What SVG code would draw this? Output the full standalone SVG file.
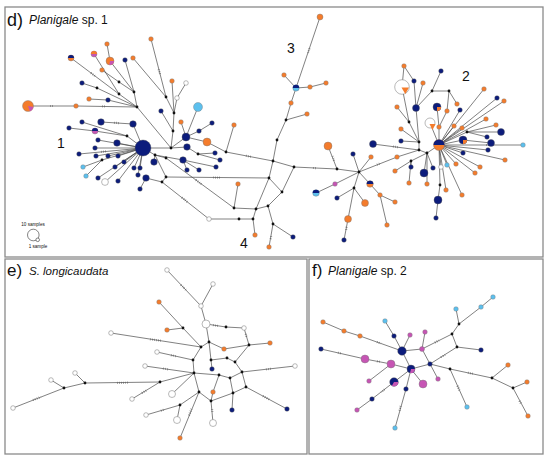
<svg xmlns="http://www.w3.org/2000/svg" width="550" height="460" viewBox="0 0 550 460">
<style>
.frame{fill:none;stroke:#8a8a8a;stroke-width:1.3}
.lbl{font-family:"Liberation Sans",Arial,sans-serif;fill:#111}
.e path{stroke:#4a4a4a;stroke-width:0.7;fill:none}
.t path{stroke:#555;stroke-width:2.2;stroke-dasharray:0.5 1.6;fill:none}
.n{fill:#0c1c7c;stroke:#555;stroke-width:0.4}
.o{fill:#f47c2c;stroke:#777;stroke-width:0.4}
.l{fill:#5cc0ee;stroke:#777;stroke-width:0.4}
.p{fill:#c655b4;stroke:#777;stroke-width:0.4}
.w{fill:#fff;stroke:#8a8a8a;stroke-width:0.6}
.j{fill:#111}
.fn{fill:#0c1c7c}.fo{fill:#f47c2c}.fl{fill:#5cc0ee}.fp{fill:#c655b4}
.leg{fill:#fff;stroke:#333;stroke-width:0.6}
</style>
<rect class="frame" x="5" y="7" width="538" height="250"/>
<rect class="frame" x="5" y="259" width="302" height="195"/>
<rect class="frame" x="309" y="259" width="234" height="195"/>
<g id="labels">
<text class="lbl" x="7" y="26" font-size="18">d)</text>
<text class="lbl" x="29" y="24" font-size="12"><tspan font-style="italic">Planigale</tspan> sp. 1</text>
<text class="lbl" x="57" y="148" font-size="14">1</text>
<text class="lbl" x="462" y="81" font-size="14">2</text>
<text class="lbl" x="287" y="53" font-size="14">3</text>
<text class="lbl" x="240" y="248" font-size="14">4</text>
<text class="lbl" x="7" y="276" font-size="17">e)</text>
<text class="lbl" x="29" y="275" font-size="11.5" font-style="italic">S. longicaudata</text>
<text class="lbl" x="312" y="276" font-size="17">f)</text>
<text class="lbl" x="328" y="275" font-size="12"><tspan font-style="italic">Planigale</tspan> sp. 2</text>
</g>
<g id="legend">
<text class="lbl" x="33" y="226" font-size="4.6" text-anchor="middle">10 samples</text>
<circle class="leg" cx="33.3" cy="235" r="5.8"/>
<circle class="leg" cx="37.7" cy="239.8" r="1.8"/>
<text class="lbl" x="38" y="248" font-size="4.6" text-anchor="middle">1 sample</text>
</g>
<g id="connectors">
<g class="e">
<path d="M143 148L171 148M171 148L137 107M137 107L134 92M137 107L119 94M119 94L71 58M137 107L97 88M97 88L82 83M137 107L108 100M108 100L89 99M119 94L94 54M134 92L110 61M110 61L107 44M134 92L119 82M119 82L102 70M134 92L125 60M28 106L76 106M76 106L137 107"/>
<path d="M171 148L173 131M173 131L174 113M174 113L177 98M177 98L186 83M174 113L166 97M166 97L151 39M166 97L133 58M174 113L172 81M173 131L161 111"/>
<path d="M143 148L133 124M133 124L101 122M143 148L127 136M127 136L82 122M127 136L95 131M95 131L69 128M143 148L98 140M143 148L117 143M143 148L95 148M143 148L79 154M143 148L96 156M143 148L108 156M143 148L118 156M143 148L124 162M143 148L134 168M143 148L140 168M143 148L115 167M143 148L102 160M102 160L83 167M102 160L86 176M143 148L98 178M143 148L105 182M143 148L118 181M143 148L138 175"/>
<path d="M186 137L181 122M186 137L198 107M186 137L199 131M199 131L212 123M171 148L186 137M186 137L207 142M207 142L226 152M226 152L234 125M226 152L273 161M171 148L187 147M187 147L198 154M198 154L215 153M198 154L220 160"/>
<path d="M143 148L155 155M155 155L154 162M155 155L183 160M183 160L199 170M183 160L216 167M183 160L187 170M155 155L166 158M166 158L234 208M155 155L166 177M166 177L162 182M162 182L146 178M146 178L140 189M162 182L209 219M166 177L269 178"/>
<path d="M273 161L277 140M277 140L286 120M286 120L291 103M291 103L296 88M296 88L320 17M286 120L307 114M296 88L284 75M296 88L310 87M310 87L326 83"/>
<path d="M273 161L269 178M273 161L294 167M269 178L282 192M282 192L268 206M269 178L256 209M256 209L234 208M256 209L268 206M234 208L238 184M209 219L239 219M239 219L253 219M253 219L256 209M253 219L255 235M268 206L273 224M273 224L269 247M273 224L293 237M282 192L294 167"/>
<path d="M294 167L337 169M337 169L328 146M337 169L359 172M359 172L353 154M359 172L371 157M359 172L335 184M335 184L316 193M359 172L370 184M370 184L380 195M380 195L395 202M380 195L387 225M359 172L354 188M354 188L337 198M354 188L365 203M354 188L348 219M348 219L344 240M359 172L397 157M397 157L419 150"/>
<path d="M373 144L419 150M419 150L427 153M427 153L439 145M419 150L419 142M419 142L401 141M419 142L401 129M419 142L409 122M409 122L397 107M409 122L402 87M402 87L404 66M404 66L414 81M414 81L416 108M423 83L416 108M416 108L419 142M416 108L432 91M432 91L441 71M432 91L449 91M449 91L457 104M449 91L447 111M447 111L439 127M439 127L439 145M437 107L439 127"/>
<path d="M439 145L460 110M439 145L430 123M439 145L454 126M439 145L462 128M439 145L484 89M439 145L497 98M439 145L504 101M439 145L486 119M439 145L467 132M467 132L496 125M467 132L501 132M467 132L487 137M439 145L463 140M463 140L491 143M439 145L488 150M439 145L523 145M439 145L463 153M439 145L456 164M439 145L475 173M439 145L480 167M439 145L505 160M439 145L462 195M439 145L446 190M439 145L447 165M439 145L441 167M439 145L440 185M440 185L438 200M438 200L436 218M427 153L433 168M427 153L424 173M427 153L427 184M427 153L411 161M411 161L411 167M411 161L409 183M411 161L395 171"/>
<path d="M167 270L201 306M213 284L201 306M201 306L206 324M206 324L226 327M226 327L244 328M244 328L249 345M249 345L270 343M249 345L224 349M206 324L209 342M209 342L201 347M209 342L224 349M159 302L183 328M167 330L183 328M183 328L201 347M111 333L201 347M201 347L193 360M193 360L157 352M193 360L194 373M145 366L194 373M194 373L160 382M160 382L85 383M85 383L75 373M85 383L64 388M64 388L51 380M64 388L13 408M160 382L132 399M194 373L172 394M194 373L199 392M199 392L211 401M199 392L180 405M180 405L146 415M180 405L177 420M199 392L180 438M211 401L213 423"/>
<path d="M209 342L211 360M211 360L212 369M211 360L227 358M227 358L235 362M235 362L249 345M235 362L242 372M194 373L219 375M219 375L230 378M230 378L242 372M230 378L233 393M233 393L232 410M233 393L246 387M242 372L246 387M246 387L287 409M242 372L295 366M219 375L213 392M213 392L211 401M211 401L233 393"/>
<path d="M493 297L481 307M481 307L459 324M459 324L456 309M459 324L452 334M452 334L457 347M452 334L422 349M457 347L481 350M457 347L430 364M422 349L402 351M402 351L394 336M394 336L385 321M402 351L410 335M422 349L425 332M402 351L360 336M360 336L344 331M344 331L323 322M402 351L411 369M422 349L430 364M430 364L411 369M430 364L438 379M430 364L450 369M450 369L492 378M492 378L508 365M492 378L513 388M513 388L527 382M513 388L528 416M450 369L467 407M411 369L391 364M391 364L365 359M365 359L321 349M411 369L423 384M411 369L394 382M394 382L372 399M372 399L357 410M391 364L369 381M411 369L406 389M406 389L395 428"/>
</g>
<g class="t">
<path d="M50 106L54 106M102 106.4L106 106.5M160 74L158.5 69M213 177.5L220 177.6M182 197.5L188 202.5M196 180L202 184.5M246 155.8L251 156.8M309.5 48.5L307.5 54.5M313 168L317 168.2M334 160.5L332.5 156M486 145L493 145M393 146.6L399 147.4M101 151.8L106 151.4M114 122.8L119 123.1M91 73L95 76M270.7 239L271.3 235M377 164.6L381 163.2M346.5 227L346 230.5"/>
<path d="M181 285L186 290M150 339.3L161 340.7M117 382.9L128 382.7M33 400L41 397M163 368.6L169 369.5M171 355.2L176 356.3M212.1 409L212.4 413M263 396L269 399.4M266 369.3L271 368.7M191.5 409L188.5 416.5M161 410.7L165 409.3M213 325.2L219 326M142 393L147 390M245.8 334L246.8 338"/>
<path d="M338 352.8L342 353.7M377 342L381 343.6M435 342.5L439 340.5M441 357.1L445 354.9M468 372.8L474 374.1M400.6 406L399.4 411M457.5 386L459.5 390.5M519.5 401L521.5 404.5M377 361.3L380 361.8M384.5 389.5L381 392.2"/>
</g>
</g>
<g id="d-junctions">
<g id="dj1"><circle class="j" cx="171" cy="148" r="1.4"/></g>
<g id="dj2"><circle class="j" cx="137" cy="107" r="1.4"/></g>
<g id="dj3"><circle class="j" cx="134" cy="92" r="1.4"/></g>
<g id="dj4"><circle class="j" cx="119" cy="94" r="1.4"/></g>
<g id="dj5"><circle class="j" cx="97" cy="88" r="1.4"/></g>
<g id="dj6"><circle class="j" cx="119" cy="82" r="1.4"/></g>
<g id="dj7"><circle class="j" cx="166" cy="97" r="1.4"/></g>
<g id="dj8"><circle class="j" cx="174" cy="113" r="1.4"/></g>
<g id="dj9"><circle class="j" cx="173" cy="131" r="1.4"/></g>
<g id="dj10"><circle class="j" cx="127" cy="136" r="1.4"/></g>
<g id="dj11"><circle class="j" cx="102" cy="160" r="1.4"/></g>
<g id="dj12"><circle class="j" cx="155" cy="155" r="1.4"/></g>
<g id="dj13"><circle class="j" cx="166" cy="158" r="1.4"/></g>
<g id="dj14"><circle class="j" cx="166" cy="177" r="1.4"/></g>
<g id="dj15"><circle class="j" cx="162" cy="182" r="1.4"/></g>
<g id="dj16"><circle class="j" cx="198" cy="154" r="1.4"/></g>
<g id="dj17"><circle class="j" cx="226" cy="152" r="1.4"/></g>
<g id="dj18"><circle class="j" cx="273" cy="161" r="1.4"/></g>
<g id="dj19"><circle class="j" cx="269" cy="178" r="1.4"/></g>
<g id="dj20"><circle class="j" cx="282" cy="192" r="1.4"/></g>
<g id="dj21"><circle class="j" cx="268" cy="206" r="1.4"/></g>
<g id="dj22"><circle class="j" cx="256" cy="209" r="1.4"/></g>
<g id="dj23"><circle class="j" cx="234" cy="208" r="1.4"/></g>
<g id="dj24"><circle class="j" cx="239" cy="219" r="1.4"/></g>
<g id="dj25"><circle class="j" cx="253" cy="219" r="1.4"/></g>
<g id="dj26"><circle class="j" cx="273" cy="224" r="1.4"/></g>
<g id="dj27"><circle class="j" cx="286" cy="120" r="1.4"/></g>
<g id="dj28"><circle class="j" cx="277" cy="140" r="1.4"/></g>
<g id="dj29"><circle class="j" cx="294" cy="167" r="1.4"/></g>
<g id="dj30"><circle class="j" cx="337" cy="169" r="1.4"/></g>
<g id="dj31"><circle class="j" cx="359" cy="172" r="1.4"/></g>
<g id="dj32"><circle class="j" cx="354" cy="188" r="1.4"/></g>
<g id="dj33"><circle class="j" cx="419" cy="150" r="1.4"/></g>
<g id="dj34"><circle class="j" cx="427" cy="153" r="1.4"/></g>
<g id="dj35"><circle class="j" cx="411" cy="161" r="1.4"/></g>
<g id="dj36"><circle class="j" cx="409" cy="122" r="1.4"/></g>
<g id="dj37"><circle class="j" cx="419" cy="142" r="1.4"/></g>
<g id="dj38"><circle class="j" cx="432" cy="91" r="1.4"/></g>
<g id="dj39"><circle class="j" cx="449" cy="91" r="1.4"/></g>
<g id="dj40"><circle class="j" cx="467" cy="132" r="1.4"/></g>
<g id="dj41"><circle class="j" cx="440" cy="185" r="1.4"/></g>
</g>
<g id="d-nodes">
<g id="hub1"><circle class="n" cx="143" cy="148" r="8"/></g>
<g id="d1"><circle class="o" cx="107" cy="44" r="2.3"/></g>
<g id="d2"><circle class="p" cx="94" cy="54" r="3"/><path class="fo" d="M91 54A3 3 0 0 1 97 54Z"/></g>
<g id="d3"><circle class="o" cx="110" cy="61" r="4"/><path class="fp" d="M110 61L114 61A4 4 0 0 1 109.3 64.9Z"/></g>
<g id="d4"><circle class="o" cx="71" cy="58" r="3"/><path class="fn" d="M68 58A3 3 0 0 1 74 58Z"/></g>
<g id="d5"><circle class="n" cx="125" cy="60" r="2.3"/></g>
<g id="d6"><circle class="o" cx="133" cy="58" r="2.3"/></g>
<g id="d7"><circle class="o" cx="102" cy="70" r="2.3"/></g>
<g id="d8"><circle class="o" cx="151" cy="39" r="2.3"/></g>
<g id="d9"><circle class="o" cx="172" cy="81" r="2.3"/></g>
<g id="d10"><circle class="w" cx="186" cy="83" r="2.3"/></g>
<g id="d11"><circle class="w" cx="177" cy="98" r="2.3"/></g>
<g id="d12"><circle class="n" cx="82" cy="83" r="2.3"/></g>
<g id="d13"><circle class="o" cx="89" cy="99" r="2.3"/></g>
<g id="d14"><circle class="n" cx="108" cy="100" r="2.3"/></g>
<g id="d15"><circle class="o" cx="28" cy="106" r="5.5"/><path class="fp" d="M28 106L33.4 107A5.5 5.5 0 0 1 29.9 111.2Z"/></g>
<g id="d16"><circle class="o" cx="76" cy="106" r="2.3"/></g>
<g id="d17"><circle class="l" cx="198" cy="107" r="4.5"/></g>
<g id="d18"><circle class="n" cx="161" cy="111" r="2.3"/></g>
<g id="d19"><circle class="n" cx="101" cy="122" r="3.3"/></g>
<g id="d20"><circle class="n" cx="133" cy="124" r="3.3"/></g>
<g id="d21"><circle class="n" cx="82" cy="122" r="2.3"/></g>
<g id="d22"><circle class="n" cx="69" cy="128" r="2.3"/></g>
<g id="d23"><circle class="p" cx="95" cy="131" r="3"/><path class="fn" d="M92 131A3 3 0 0 1 98 131Z"/></g>
<g id="d24"><circle class="o" cx="181" cy="122" r="2.3"/></g>
<g id="d25"><circle class="n" cx="199" cy="131" r="2.3"/></g>
<g id="d26"><circle class="n" cx="212" cy="123" r="2.3"/></g>
<g id="d27"><circle class="n" cx="186" cy="137" r="4"/></g>
<g id="d28"><circle class="o" cx="207" cy="142" r="4"/></g>
<g id="d29"><circle class="o" cx="234" cy="125" r="2.3"/></g>
<g id="d30"><circle class="n" cx="98" cy="140" r="2.3"/></g>
<g id="d31"><circle class="n" cx="117" cy="143" r="3.3"/></g>
<g id="d32"><circle class="n" cx="95" cy="148" r="2.3"/></g>
<g id="d33"><circle class="n" cx="79" cy="154" r="2.3"/></g>
<g id="d34"><circle class="n" cx="96" cy="156" r="2.3"/></g>
<g id="d35"><circle class="n" cx="108" cy="156" r="2.3"/></g>
<g id="d36"><circle class="n" cx="118" cy="156" r="2.3"/></g>
<g id="d37"><circle class="n" cx="187" cy="147" r="3.3"/></g>
<g id="d38"><circle class="n" cx="183" cy="160" r="3.3"/></g>
<g id="d39"><circle class="n" cx="215" cy="153" r="2.3"/></g>
<g id="d40"><circle class="n" cx="220" cy="160" r="2.3"/></g>
<g id="d41"><circle class="n" cx="199" cy="170" r="2.3"/></g>
<g id="d42"><circle class="n" cx="216" cy="167" r="2.3"/></g>
<g id="d43"><circle class="n" cx="187" cy="170" r="2.3"/></g>
<g id="d44"><circle class="n" cx="154" cy="162" r="3.3"/></g>
<g id="d45"><circle class="n" cx="124" cy="162" r="2.3"/></g>
<g id="d46"><circle class="n" cx="134" cy="168" r="2.3"/></g>
<g id="d47"><circle class="n" cx="140" cy="168" r="2.3"/></g>
<g id="d48"><circle class="n" cx="115" cy="167" r="2.3"/></g>
<g id="d49"><circle class="l" cx="83" cy="167" r="2.3"/></g>
<g id="d50"><circle class="l" cx="86" cy="176" r="2.3"/></g>
<g id="d51"><circle class="n" cx="98" cy="178" r="2.3"/></g>
<g id="d52"><circle class="w" cx="105" cy="182" r="3.4"/></g>
<g id="d53"><circle class="n" cx="118" cy="181" r="2.3"/></g>
<g id="d54"><circle class="n" cx="138" cy="175" r="2.3"/></g>
<g id="d55"><circle class="n" cx="146" cy="178" r="3.3"/></g>
<g id="d56"><circle class="n" cx="140" cy="189" r="2.3"/></g>
<g id="d57"><circle class="o" cx="238" cy="184" r="2.3"/></g>
<g id="d58"><circle class="w" cx="209" cy="219" r="2.3"/></g>
<g id="d59"><circle class="o" cx="255" cy="235" r="2.3"/></g>
<g id="d60"><circle class="o" cx="269" cy="247" r="2.3"/></g>
<g id="d61"><circle class="n" cx="293" cy="237" r="2.3"/></g>
<g id="d62"><circle class="o" cx="320" cy="17" r="3"/></g>
<g id="d63"><circle class="l" cx="296" cy="88" r="3.2"/><path class="fn" d="M292.8 88A3.2 3.2 0 0 1 299.2 88Z"/></g>
<g id="d64"><circle class="o" cx="284" cy="75" r="2.3"/></g>
<g id="d65"><circle class="o" cx="310" cy="87" r="2.3"/></g>
<g id="d66"><circle class="o" cx="326" cy="83" r="2.3"/></g>
<g id="d67"><circle class="o" cx="291" cy="103" r="2.3"/></g>
<g id="d68"><circle class="o" cx="307" cy="114" r="2.3"/></g>
<g id="d69"><circle class="o" cx="328" cy="146" r="4"/></g>
<g id="d70"><circle class="n" cx="353" cy="154" r="2.3"/></g>
<g id="d71"><circle class="o" cx="371" cy="157" r="2.3"/></g>
<g id="d72"><circle class="p" cx="335" cy="184" r="2.3"/></g>
<g id="d73"><circle class="l" cx="316" cy="193" r="3.3"/><path class="fn" d="M312.7 193A3.3 3.3 0 0 1 319.3 193Z"/></g>
<g id="d74"><circle class="o" cx="370" cy="184" r="3.3"/><path class="fn" d="M366.7 184A3.3 3.3 0 0 1 373.3 184Z"/></g>
<g id="d75"><circle class="n" cx="337" cy="198" r="2.3"/></g>
<g id="d76"><circle class="o" cx="365" cy="203" r="3.5"/></g>
<g id="d77"><circle class="o" cx="380" cy="195" r="2.3"/></g>
<g id="d78"><circle class="o" cx="395" cy="202" r="2.3"/></g>
<g id="d79"><circle class="o" cx="348" cy="219" r="3.5"/></g>
<g id="d80"><circle class="n" cx="344" cy="240" r="2.3"/></g>
<g id="d81"><circle class="o" cx="387" cy="225" r="2.3"/></g>
<g id="d82"><circle class="o" cx="397" cy="157" r="2.3"/></g>
<g id="d83"><circle class="n" cx="373" cy="144" r="3.5"/></g>
<g id="hub2"><circle class="o" cx="439" cy="145" r="5.5"/><path class="fn" d="M433.5 145A5.5 5.5 0 0 1 444.5 145Z"/></g>
<g id="d84"><circle class="o" cx="404" cy="66" r="2.3"/></g>
<g id="d85"><circle class="w" cx="402" cy="87" r="7.3"/><path class="fo" d="M401.5 87.5L409 87.5L405.3 94Z"/></g>
<g id="d86"><circle class="n" cx="414" cy="81" r="2.3"/></g>
<g id="d87"><circle class="o" cx="423" cy="83" r="2.3"/></g>
<g id="d88"><circle class="n" cx="441" cy="71" r="2.3"/></g>
<g id="d89"><circle class="n" cx="416" cy="108" r="3.5"/></g>
<g id="d90"><circle class="o" cx="397" cy="107" r="2.3"/></g>
<g id="d91"><circle class="o" cx="401" cy="129" r="2.3"/></g>
<g id="d92"><circle class="n" cx="401" cy="141" r="2.3"/></g>
<g id="d93"><circle class="n" cx="437" cy="107" r="4"/><path class="fo" d="M437 107L441 107A4 4 0 0 1 437 111Z"/></g>
<g id="d94"><circle class="o" cx="447" cy="111" r="2.3"/></g>
<g id="d95"><circle class="o" cx="457" cy="104" r="2.3"/></g>
<g id="d96"><circle class="n" cx="460" cy="110" r="2.3"/></g>
<g id="d97"><circle class="w" cx="430" cy="123" r="5"/><path class="fo" d="M429.5 124L435.5 124L432.5 130Z"/></g>
<g id="d98"><circle class="o" cx="439" cy="127" r="2.3"/></g>
<g id="d99"><circle class="o" cx="454" cy="126" r="2.3"/></g>
<g id="d100"><circle class="o" cx="462" cy="128" r="2.3"/></g>
<g id="d101"><circle class="o" cx="484" cy="89" r="2.3"/></g>
<g id="d102"><circle class="n" cx="497" cy="98" r="2.3"/></g>
<g id="d103"><circle class="o" cx="504" cy="101" r="2.3"/></g>
<g id="d104"><circle class="o" cx="486" cy="119" r="2.3"/></g>
<g id="d105"><circle class="o" cx="496" cy="125" r="2.3"/></g>
<g id="d106"><circle class="n" cx="501" cy="132" r="3.5"/></g>
<g id="d107"><circle class="n" cx="463" cy="140" r="4"/><path class="fo" d="M463 140L467 140A4 4 0 0 1 463 144Z"/></g>
<g id="d108"><circle class="n" cx="487" cy="137" r="2.3"/></g>
<g id="d109"><circle class="n" cx="491" cy="143" r="3.5"/></g>
<g id="d110"><circle class="n" cx="488" cy="150" r="2.3"/></g>
<g id="d111"><circle class="l" cx="523" cy="145" r="2.3"/></g>
<g id="d112"><circle class="n" cx="463" cy="153" r="2.3"/></g>
<g id="d113"><circle class="o" cx="456" cy="164" r="2.3"/></g>
<g id="d114"><circle class="o" cx="475" cy="173" r="2.3"/></g>
<g id="d115"><circle class="o" cx="480" cy="167" r="2.3"/></g>
<g id="d116"><circle class="o" cx="505" cy="160" r="2.3"/></g>
<g id="d117"><circle class="o" cx="462" cy="195" r="2.3"/></g>
<g id="d118"><circle class="o" cx="446" cy="190" r="2.3"/></g>
<g id="d119"><circle class="l" cx="447" cy="165" r="2.3"/></g>
<g id="d120"><circle class="w" cx="441" cy="167" r="2.3"/></g>
<g id="d121"><circle class="n" cx="433" cy="168" r="2.3"/></g>
<g id="d122"><circle class="n" cx="424" cy="173" r="4"/></g>
<g id="d123"><circle class="o" cx="427" cy="184" r="2.3"/></g>
<g id="d124"><circle class="n" cx="411" cy="167" r="2.3"/></g>
<g id="d125"><circle class="o" cx="409" cy="183" r="2.3"/></g>
<g id="d126"><circle class="o" cx="395" cy="171" r="2.3"/></g>
<g id="d127"><circle class="n" cx="438" cy="200" r="4"/></g>
<g id="d128"><circle class="n" cx="436" cy="218" r="2.3"/></g>
</g>
<g id="e-nodes">
<g id="e1"><circle class="w" cx="167" cy="270" r="2.3"/></g>
<g id="e2"><circle class="w" cx="213" cy="284" r="2.3"/></g>
<g id="e3"><circle class="w" cx="201" cy="306" r="2.3"/></g>
<g id="e4"><circle class="o" cx="159" cy="302" r="2.3"/></g>
<g id="ej1"><circle class="j" cx="183" cy="328" r="1.4"/></g>
<g id="e5"><circle class="o" cx="167" cy="330" r="2.3"/></g>
<g id="e6"><circle class="w" cx="206" cy="324" r="4"/></g>
<g id="ej2"><circle class="j" cx="226" cy="327" r="1.4"/></g>
<g id="e7"><circle class="w" cx="244" cy="328" r="2.3"/></g>
<g id="e8"><circle class="w" cx="111" cy="333" r="2.3"/></g>
<g id="ej3"><circle class="j" cx="209" cy="342" r="1.4"/></g>
<g id="ej4"><circle class="j" cx="201" cy="347" r="1.4"/></g>
<g id="e9"><circle class="o" cx="224" cy="349" r="2.3"/></g>
<g id="ej5"><circle class="j" cx="249" cy="345" r="1.4"/></g>
<g id="e10"><circle class="o" cx="270" cy="343" r="2.3"/></g>
<g id="e11"><circle class="w" cx="157" cy="352" r="2.3"/></g>
<g id="ej6"><circle class="j" cx="193" cy="360" r="1.4"/></g>
<g id="ej7"><circle class="j" cx="211" cy="360" r="1.4"/></g>
<g id="ej8"><circle class="j" cx="227" cy="358" r="1.4"/></g>
<g id="ej9"><circle class="j" cx="235" cy="362" r="1.4"/></g>
<g id="e12"><circle class="n" cx="212" cy="369" r="2.3"/></g>
<g id="e13"><circle class="w" cx="145" cy="366" r="2.3"/></g>
<g id="ej10"><circle class="j" cx="194" cy="373" r="1.4"/></g>
<g id="ej11"><circle class="j" cx="219" cy="375" r="1.4"/></g>
<g id="ej12"><circle class="j" cx="242" cy="372" r="1.4"/></g>
<g id="e14"><circle class="w" cx="295" cy="366" r="2.3"/></g>
<g id="e15"><circle class="w" cx="75" cy="373" r="2.3"/></g>
<g id="e16"><circle class="w" cx="51" cy="380" r="2.3"/></g>
<g id="ej13"><circle class="j" cx="85" cy="383" r="1.4"/></g>
<g id="ej14"><circle class="j" cx="64" cy="388" r="1.4"/></g>
<g id="ej15"><circle class="j" cx="160" cy="382" r="1.4"/></g>
<g id="ej16"><circle class="j" cx="230" cy="378" r="1.4"/></g>
<g id="e17"><circle class="o" cx="213" cy="392" r="2.3"/></g>
<g id="ej17"><circle class="j" cx="199" cy="392" r="1.4"/></g>
<g id="ej18"><circle class="j" cx="233" cy="393" r="1.4"/></g>
<g id="ej19"><circle class="j" cx="246" cy="387" r="1.4"/></g>
<g id="e18"><circle class="w" cx="172" cy="394" r="3.5"/></g>
<g id="e19"><circle class="w" cx="132" cy="399" r="2.3"/></g>
<g id="ej20"><circle class="j" cx="211" cy="401" r="1.4"/></g>
<g id="e20"><circle class="n" cx="232" cy="410" r="2.3"/></g>
<g id="e21"><circle class="n" cx="287" cy="409" r="2.3"/></g>
<g id="ej21"><circle class="j" cx="180" cy="405" r="1.4"/></g>
<g id="e22"><circle class="w" cx="146" cy="415" r="2.3"/></g>
<g id="e23"><circle class="w" cx="177" cy="420" r="3.5"/></g>
<g id="e24"><circle class="w" cx="213" cy="423" r="3.5"/></g>
<g id="e25"><circle class="o" cx="180" cy="438" r="2.3"/></g>
<g id="e26"><circle class="w" cx="13" cy="408" r="2.3"/></g>
</g>
<g id="f-nodes">
<g id="f1"><circle class="l" cx="493" cy="297" r="2.3"/></g>
<g id="f2"><circle class="l" cx="481" cy="307" r="2.3"/></g>
<g id="f3"><circle class="l" cx="456" cy="309" r="2.3"/></g>
<g id="fj1"><circle class="j" cx="459" cy="324" r="1.4"/></g>
<g id="fj2"><circle class="j" cx="452" cy="334" r="1.4"/></g>
<g id="fj3"><circle class="j" cx="457" cy="347" r="1.4"/></g>
<g id="f4"><circle class="n" cx="481" cy="350" r="2.3"/></g>
<g id="f5"><circle class="l" cx="385" cy="321" r="2.3"/></g>
<g id="f6"><circle class="n" cx="394" cy="336" r="2.3"/></g>
<g id="f7"><circle class="p" cx="410" cy="335" r="2.3"/></g>
<g id="f8"><circle class="p" cx="425" cy="332" r="2.3"/></g>
<g id="f9"><circle class="p" cx="422" cy="349" r="2.5"/></g>
<g id="f10"><circle class="n" cx="402" cy="351" r="4.3"/></g>
<g id="f11"><circle class="o" cx="323" cy="322" r="2.3"/></g>
<g id="f12"><circle class="o" cx="344" cy="331" r="2.3"/></g>
<g id="f13"><circle class="o" cx="360" cy="336" r="2.3"/></g>
<g id="f14"><circle class="n" cx="321" cy="349" r="2.3"/></g>
<g id="f15"><circle class="p" cx="365" cy="359" r="4"/></g>
<g id="f16"><circle class="p" cx="391" cy="364" r="4"/></g>
<g id="f17"><circle class="n" cx="411" cy="369" r="4"/><path class="fp" d="M411 369L415 369A4 4 0 0 1 410 372.9Z"/></g>
<g id="f18"><circle class="n" cx="430" cy="364" r="2.3"/></g>
<g id="fj4"><circle class="j" cx="450" cy="369" r="1.4"/></g>
<g id="f19"><circle class="p" cx="369" cy="381" r="2.3"/></g>
<g id="f20"><circle class="n" cx="394" cy="382" r="4.3"/><path class="fp" d="M394 382L398.3 382A4.3 4.3 0 0 1 391.9 385.8Z"/></g>
<g id="f21"><circle class="p" cx="423" cy="384" r="4"/></g>
<g id="f22"><circle class="p" cx="438" cy="379" r="2.3"/></g>
<g id="f23"><circle class="n" cx="406" cy="389" r="2.3"/></g>
<g id="f24"><circle class="n" cx="372" cy="399" r="2.3"/></g>
<g id="f25"><circle class="p" cx="357" cy="410" r="2.3"/></g>
<g id="f26"><circle class="l" cx="395" cy="428" r="2.3"/></g>
<g id="f27"><circle class="l" cx="467" cy="407" r="2.3"/></g>
<g id="fj5"><circle class="j" cx="492" cy="378" r="1.4"/></g>
<g id="f28"><circle class="o" cx="508" cy="365" r="2.3"/></g>
<g id="fj6"><circle class="j" cx="513" cy="388" r="1.4"/></g>
<g id="f29"><circle class="o" cx="527" cy="382" r="2.3"/></g>
<g id="f30"><circle class="o" cx="528" cy="416" r="2.3"/></g>
</g>
</svg>
